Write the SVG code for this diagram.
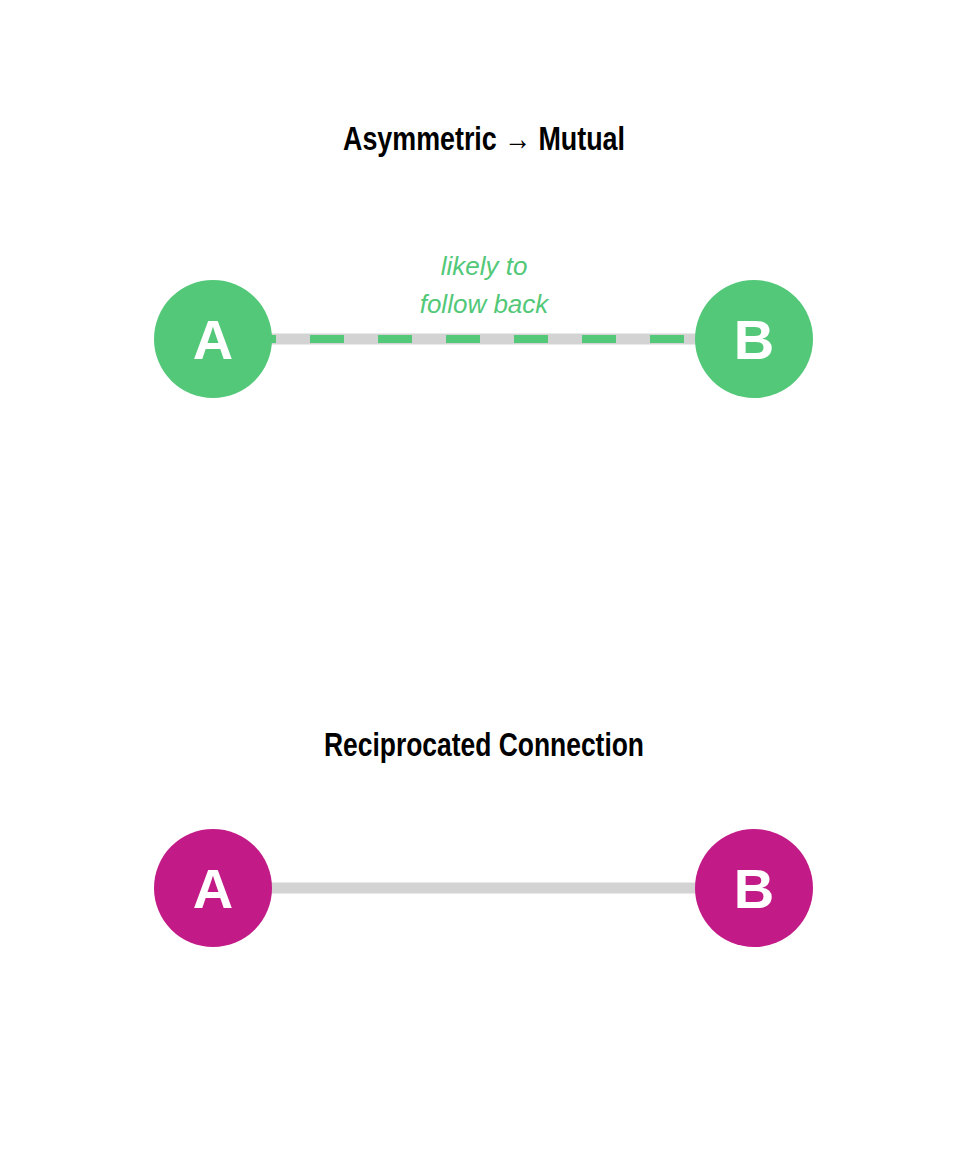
<svg xmlns="http://www.w3.org/2000/svg" width="960" height="1152" viewBox="0 0 960 1152">
<style>
.title{font-family:"Liberation Sans Narrow","Liberation Sans",Arial,sans-serif;font-weight:bold;font-size:34px;fill:#000;text-anchor:middle}
.lbl{font-family:"Liberation Sans",Arial,sans-serif;font-style:italic;font-size:26px;fill:#52C878;text-anchor:middle}
.node-label{font-family:"Liberation Sans",Arial,sans-serif;font-weight:bold;font-size:56px;fill:#fff;text-anchor:middle}
.green{fill:#52C878}
.magenta{fill:#C21A87}
.edge{stroke:#D3D3D3;stroke-width:11;fill:none}
.dash{stroke:#52C878;stroke-width:8;stroke-dasharray:34 34;fill:none}
</style>
<rect width="960" height="1152" fill="#fff"/>
<text class="title" x="484" y="150" textLength="282" lengthAdjust="spacingAndGlyphs">Asymmetric → Mutual</text>
<text class="title" x="484" y="756" textLength="320" lengthAdjust="spacingAndGlyphs">Reciprocated Connection</text>
<g id="connectors">
<line class="edge" x1="213" y1="339" x2="754" y2="339"/>
<line class="dash" x1="242" y1="339" x2="720" y2="339"/>
<line class="edge" x1="213" y1="888" x2="754" y2="888"/>
</g>
<g id="edge-label">
<text class="lbl" x="484" y="275">likely to</text>
<text class="lbl" x="484" y="313">follow back</text>
</g>
<g id="top-A"><circle class="green" cx="213" cy="339" r="59"/><text class="node-label" x="213" y="359">A</text></g>
<g id="top-B"><circle class="green" cx="754" cy="339" r="59"/><text class="node-label" x="754" y="359">B</text></g>
<g id="bottom-A"><circle class="magenta" cx="213" cy="888" r="59"/><text class="node-label" x="213" y="908">A</text></g>
<g id="bottom-B"><circle class="magenta" cx="754" cy="888" r="59"/><text class="node-label" x="754" y="908">B</text></g>
</svg>
